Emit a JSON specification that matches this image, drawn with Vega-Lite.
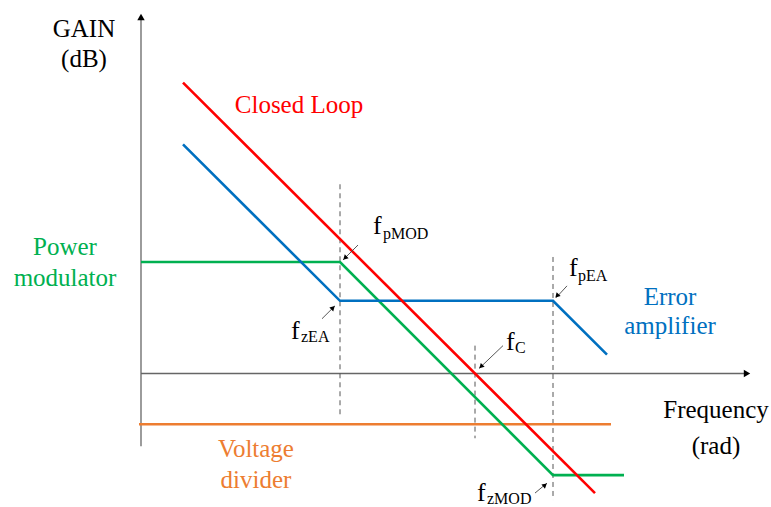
{
  "$schema": "https://vega.github.io/schema/vega-lite/v6.json",
  "width": 771,
  "height": 507,
  "padding": 0,
  "autosize": {"type": "fit", "contains": "padding"},
  "background": "white",
  "config": {"view": {"stroke": null}},
  "encoding": {
    "x": {"field": "x", "type": "quantitative", "scale": {"domain": [0, 771], "nice": false, "zero": false}, "axis": null},
    "y": {"field": "y", "type": "quantitative", "scale": {"domain": [0, 507], "nice": false, "zero": false, "reverse": true}, "axis": null}
  },
  "layer": [
    {
      "data": {"values": [
        {"x": 141, "y": 448, "x2": 141, "y2": 18},
        {"x": 141, "y": 375, "x2": 746, "y2": 375}
      ]},
      "mark": {"type": "rule", "color": "#666666", "strokeWidth": 1.3},
      "encoding": {"x2": {"field": "x2"}, "y2": {"field": "y2"}}
    },
    {
      "data": {"values": [
        {"x": 141, "y": 17, "angle": 0},
        {"x": 747, "y": 375, "angle": 90}
      ]},
      "mark": {"type": "point", "shape": "triangle-up", "filled": true, "color": "#000000", "opacity": 1, "size": 55},
      "encoding": {"angle": {"field": "angle", "type": "quantitative", "scale": null}}
    },
    {
      "data": {"values": [
        {"x": 340, "y": 185, "y2": 418},
        {"x": 475, "y": 347, "y2": 440},
        {"x": 553, "y": 258, "y2": 502}
      ]},
      "mark": {"type": "rule", "color": "#555555", "strokeWidth": 1, "strokeDash": [5, 4]},
      "encoding": {"y2": {"field": "y2"}}
    },
    {
      "data": {"values": [
        {"series": "Voltage divider", "i": 0, "x": 139, "y": 426},
        {"series": "Voltage divider", "i": 1, "x": 611, "y": 426},
        {"series": "Power modulator", "i": 0, "x": 141, "y": 263},
        {"series": "Power modulator", "i": 1, "x": 340, "y": 263},
        {"series": "Power modulator", "i": 2, "x": 553, "y": 477},
        {"series": "Power modulator", "i": 3, "x": 624, "y": 477},
        {"series": "Error amplifier", "i": 0, "x": 183, "y": 145},
        {"series": "Error amplifier", "i": 1, "x": 340, "y": 302},
        {"series": "Error amplifier", "i": 2, "x": 553, "y": 302},
        {"series": "Error amplifier", "i": 3, "x": 607, "y": 356},
        {"series": "Closed Loop", "i": 0, "x": 183, "y": 83},
        {"series": "Closed Loop", "i": 1, "x": 595, "y": 495}
      ]},
      "mark": {"type": "line", "strokeWidth": 2.6},
      "encoding": {
        "color": {"field": "series", "type": "nominal", "legend": null,
          "scale": {"domain": ["Closed Loop", "Error amplifier", "Power modulator", "Voltage divider"],
                    "range": ["#ff0000", "#0070c0", "#00b050", "#ed7d31"]}},
        "order": {"field": "i", "type": "quantitative"}
      }
    },
    {
      "data": {"values": [
        {"x": 358, "y": 246, "x2": 343, "y2": 261},
        {"x": 322, "y": 320, "x2": 335, "y2": 307},
        {"x": 567, "y": 287, "x2": 556, "y2": 299},
        {"x": 503, "y": 347, "x2": 479, "y2": 370},
        {"x": 535, "y": 495, "x2": 547, "y2": 485}
      ]},
      "mark": {"type": "rule", "color": "#444444", "strokeWidth": 0.9},
      "encoding": {"x2": {"field": "x2"}, "y2": {"field": "y2"}}
    },
    {
      "data": {"values": [
        {"x": 345, "y": 259, "angle": 225},
        {"x": 333, "y": 309, "angle": 45},
        {"x": 557, "y": 297, "angle": 223},
        {"x": 481, "y": 368, "angle": 226},
        {"x": 545, "y": 487, "angle": 50}
      ]},
      "mark": {"type": "point", "shape": "triangle-up", "filled": true, "color": "#000000", "opacity": 1, "size": 30},
      "encoding": {"angle": {"field": "angle", "type": "quantitative", "scale": null}}
    },
    {
      "data": {"values": [
        {"label": "Closed Loop", "series": "Closed Loop", "x": 299, "y": 113},
        {"label": "Power", "series": "Power modulator", "x": 65, "y": 256},
        {"label": "modulator", "series": "Power modulator", "x": 65, "y": 287},
        {"label": "Error", "series": "Error amplifier", "x": 670, "y": 306},
        {"label": "amplifier", "series": "Error amplifier", "x": 670, "y": 335},
        {"label": "Voltage", "series": "Voltage divider", "x": 256, "y": 459},
        {"label": "divider", "series": "Voltage divider", "x": 256, "y": 490}
      ]},
      "mark": {"type": "text", "font": "Liberation Serif", "fontSize": 25, "align": "center", "baseline": "alphabetic"},
      "encoding": {
        "text": {"field": "label"},
        "color": {"field": "series", "type": "nominal", "legend": null}
      }
    },
    {
      "data": {"values": [
        {"label": "GAIN", "x": 84, "y": 37},
        {"label": "(dB)", "x": 84, "y": 67},
        {"label": "Frequency", "x": 716, "y": 420},
        {"label": "(rad)", "x": 716, "y": 456}
      ]},
      "mark": {"type": "text", "font": "Liberation Serif", "fontSize": 25, "align": "center", "baseline": "alphabetic", "color": "#000000"},
      "encoding": {"text": {"field": "label"}}
    },
    {
      "data": {"values": [
        {"label": "f", "x": 373, "y": 235},
        {"label": "f", "x": 291, "y": 340},
        {"label": "f", "x": 569, "y": 277},
        {"label": "f", "x": 506, "y": 351},
        {"label": "f", "x": 477, "y": 503}
      ]},
      "mark": {"type": "text", "font": "Liberation Serif", "fontSize": 26, "align": "left", "baseline": "alphabetic", "color": "#000000"},
      "encoding": {"text": {"field": "label"}}
    },
    {
      "data": {"values": [
        {"label": "pMOD", "x": 383, "y": 240},
        {"label": "zEA", "x": 301, "y": 343},
        {"label": "pEA", "x": 578, "y": 282},
        {"label": "C", "x": 515, "y": 354},
        {"label": "zMOD", "x": 487, "y": 506}
      ]},
      "mark": {"type": "text", "font": "Liberation Serif", "fontSize": 16, "align": "left", "baseline": "alphabetic", "color": "#000000"},
      "encoding": {"text": {"field": "label"}}
    }
  ]
}
